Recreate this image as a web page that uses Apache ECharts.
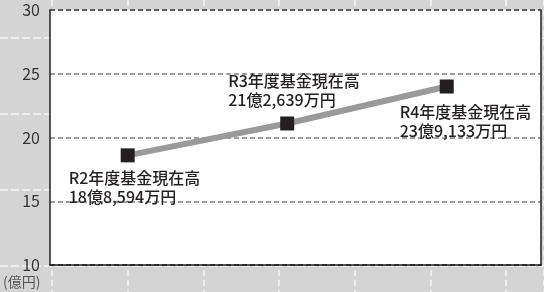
<!DOCTYPE html>
<html>
<head>
<meta charset="utf-8">
<script src="https://cdn.jsdelivr.net/npm/echarts@6/dist/echarts.min.js"></script>
<style>
html,body{margin:0;padding:0;background:#d4d4d4;}
#c{width:544px;height:292px;}
</style>
</head>
<body>
<div id="c"></div>
<script>
// ---- data ----
const fiscalYears = [2, 3, 4];              // 令和 (R) fiscal year
const fundBalance = [18.6, 21.1, 24.0];      // 億円 (as plotted)
const pointLabels = [
  'R2年度基金現在高\n18億8,594万円',
  'R3年度基金現在高\n21億2,639万円',
  'R4年度基金現在高\n23億9,133万円'
];
const yTicks = [10, 15, 20, 25, 30];
const unitLabel = '(億円)';

// ---- label placement (style, not data) ----
const labelPlacement = [
  {position: 'bottom', distance: 6, offset: [-59, 0]},
  {position: 'top', distance: 7, offset: [-59, 0]},
  {position: 'bottom', distance: 9, offset: [-47, 0]}
];

const FONT = '"Noto Sans CJK JP", "Noto Sans", sans-serif';
const chart = echarts.init(document.getElementById('c'));

const seriesData = fiscalYears.map((x, i) => ({
  value: [x, fundBalance[i]],
  label: labelPlacement[i]
}));

const option = {
  backgroundColor: '#d4d4d4',
  animation: false,
  title: {
    text: unitLabel, left: 3, top: 275, padding: 0,
    textStyle: {fontSize: 14, fontWeight: 'normal', color: '#555', fontFamily: FONT}
  },
  grid: [
    {left: 50, right: 3, top: 10, bottom: 27, show: true, backgroundColor: '#ffffff', borderWidth: 0, z: 1},
    {left: 52, right: 0, top: 0, bottom: 0, z: 0},
    {left: 0, right: 0, top: 38, bottom: 26, z: 0}
  ],
  xAxis: [
    {gridIndex: 0, type: 'value', min: 1.513, max: 4.591, z: 1,
     axisLine: {show: true, onZero: false, lineStyle: {color: '#231f20', width: 1.5}},
     axisTick: {show: false}, axisLabel: {show: false}, splitLine: {show: false}},
    {gridIndex: 1, type: 'value', min: 0, max: 6.5, interval: 1, z: 0,
     axisLine: {show: false}, axisTick: {show: false}, axisLabel: {show: false},
     splitLine: {show: true, lineStyle: {color: '#f4f4f4', width: 1.5, type: [6, 4]}}},
    {gridIndex: 2, type: 'value', min: 0, max: 1, show: false, z: 0}
  ],
  yAxis: [
    {gridIndex: 0, type: 'value', position: 'left', min: yTicks[0], max: yTicks[yTicks.length - 1], interval: 5, z: 1,
     axisLine: {show: true, lineStyle: {color: '#231f20', width: 1.5}},
     axisTick: {show: false},
     axisLabel: {fontSize: 16, color: '#333', margin: 10, fontFamily: FONT},
     splitLine: {show: true, lineStyle: {color: ['#231f20', '#808080', '#808080', '#808080', '#333333'], width: 1.5, type: [5, 3]}}},
    {gridIndex: 0, type: 'value', position: 'right', min: yTicks[0], max: yTicks[yTicks.length - 1], z: 1,
     axisLine: {show: true, lineStyle: {color: '#231f20', width: 1.5}},
     axisTick: {show: false}, axisLabel: {show: false}, splitLine: {show: false}},
    {gridIndex: 1, type: 'value', min: 0, max: 1, show: false, z: 0},
    {gridIndex: 2, type: 'value', min: 0, max: 3, interval: 1, z: 0,
     axisLine: {show: false}, axisTick: {show: false}, axisLabel: {show: false},
     splitLine: {show: true, lineStyle: {color: '#f4f4f4', width: 1.5, type: [8, 3]}}}
  ],
  series: [{
    type: 'line',
    xAxisIndex: 0, yAxisIndex: 0,
    z: 3,
    data: seriesData,
    symbol: 'rect',
    symbolSize: 14,
    itemStyle: {color: '#231f20'},
    lineStyle: {color: '#9a9a9a', width: 6},
    label: {
      show: true,
      formatter: p => pointLabels[p.dataIndex],
      fontSize: 16, lineHeight: 19, color: '#231f20', fontFamily: FONT, fontWeight: 500,
      align: 'left'
    }
  }]
};
chart.setOption(option);
</script>
</body>
</html>
